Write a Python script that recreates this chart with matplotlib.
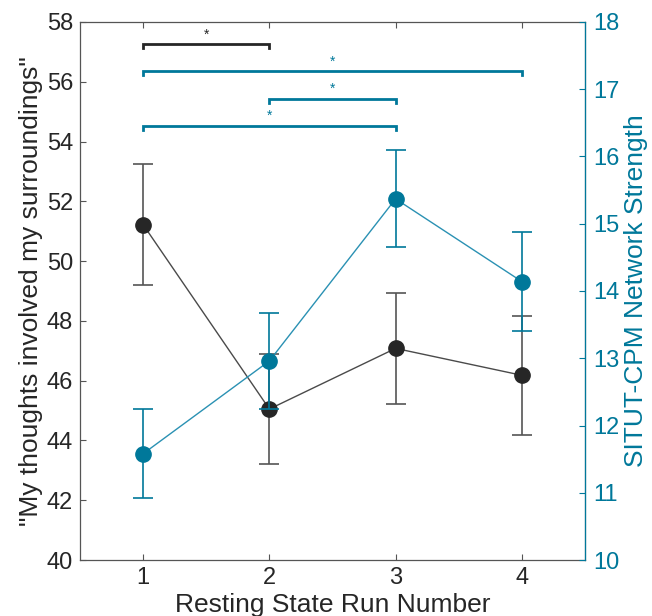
import numpy as np
import matplotlib.pyplot as plt

plt.rcParams['font.family'] = ['Liberation Sans', 'DejaVu Sans']

runs = [1, 2, 3, 4]
# "My thoughts involved my surroundings" (left axis)
thought_mean = [51.22, 45.05, 47.08, 46.18]
thought_err = [2.02, 1.85, 1.86, 2.0]
# SITUT-CPM network strength (right axis)
net_mean = [11.58, 12.96, 15.37, 14.14]
net_err = [0.66, 0.71, 0.72, 0.73]

# significance brackets: (x1, x2, y on left axis, colour key)
brackets = [(1, 2, 57.25, 'k'), (1, 4, 56.35, 't'), (2, 3, 55.42, 't'), (1, 3, 54.52, 't')]

black = '#262626'
teal = '#00789a'
grey = '#555555'

fig = plt.figure(figsize=(6.52, 6.16), dpi=100)
ax = fig.add_axes([0.1227, 0.0909, 0.7745, 0.8734])
ax2 = ax.twinx()

ax.errorbar(runs, thought_mean, yerr=thought_err, color='#4a4a4a', ecolor=grey,
            lw=1, elinewidth=1.2, capsize=7, capthick=1.2, marker='o', ms=11,
            mfc=black, mec=black, zorder=3)
ax2.errorbar(runs, net_mean, yerr=net_err, color='#2a91b3', ecolor=teal,
             lw=1, elinewidth=1.2, capsize=7, capthick=1.2, marker='o', ms=11,
             mfc=teal, mec=teal, zorder=3)

for x1, x2, y, c in brackets:
    col = black if c == 'k' else teal
    ax.plot([x1, x1, x2, x2], [y - 0.13, y, y, y - 0.13], color=col, lw=2,
            solid_joinstyle='miter', clip_on=False)
    ax.text((x1 + x2) / 2, y + 0.1, '*', color=col, ha='center', va='bottom',
            fontsize=10)

ax.set_xlim(0.5, 4.5)
ax.set_ylim(40, 58)
ax.set_xticks(runs)
ax.set_yticks(np.arange(40, 59, 2))
ax2.set_ylim(10, 18)
ax2.set_yticks(np.arange(10, 19, 1))

ax.tick_params(direction='in', top=True, right=False, length=4,
               labelsize=17, colors='#262626', width=0.8, pad=5)
ax.tick_params(axis='both', color=grey)
ax2.tick_params(direction='in', length=4, labelsize=17, colors=teal, width=0.8,
                pad=6)

for s in ['left', 'top', 'bottom']:
    ax.spines[s].set_color(grey)
    ax.spines[s].set_linewidth(0.9)
ax2.spines['right'].set_color(teal)
ax2.spines['right'].set_linewidth(0.9)
for s in ['left', 'top', 'bottom']:
    ax2.spines[s].set_visible(False)

ax.set_ylabel('"My thoughts involved my surroundings"', fontsize=19,
              color='#262626', labelpad=3)
ax2.set_ylabel('SITUT-CPM Network Strength', fontsize=19, color=teal,
               labelpad=3)
ax.set_xlabel('Resting State Run Number', fontsize=19, color='#262626',
              labelpad=3)

fig.savefig('out.png', dpi=100)
